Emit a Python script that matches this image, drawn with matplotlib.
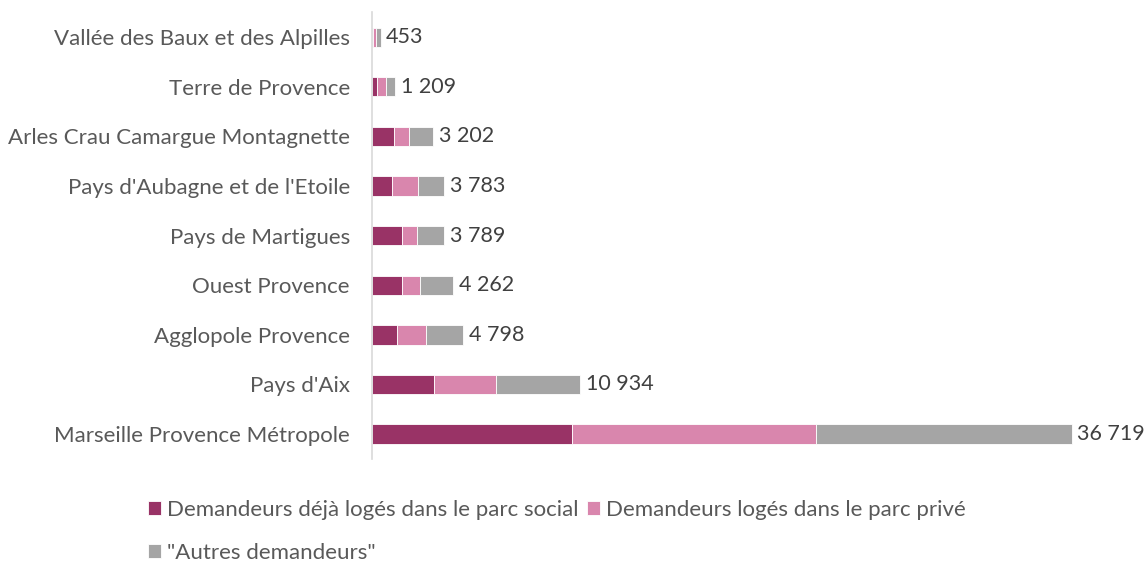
import matplotlib
matplotlib.use("Agg")
import matplotlib.pyplot as plt
import numpy as np

plt.rcParams['font.family'] = ['Lato', 'DejaVu Sans']

categories = ["Vallée des Baux et des Alpilles", "Terre de Provence",
              "Arles Crau Camargue Montagnette", "Pays d'Aubagne et de l'Etoile",
              "Pays de Martigues", "Ouest Provence", "Agglopole Provence",
              "Pays d'Aix", "Marseille Provence Métropole"]
social = [30, 280, 1155, 1033, 1575, 1575, 1313, 3255, 10500]
prive = [200, 455, 805, 1365, 770, 960, 1505, 3240, 12790]
autres = [223, 474, 1242, 1385, 1444, 1727, 1980, 4439, 13429]
totals = [453, 1209, 3202, 3783, 3789, 4262, 4798, 10934, 36719]
series_names = ["Demandeurs déjà logés dans le parc social",
                "Demandeurs logés dans le parc privé",
                "\"Autres demandeurs\""]
colors = ["#993366", "#D986AD", "#A5A5A5"]

fig = plt.figure(figsize=(11.46, 5.63), dpi=100)
ax = fig.add_axes([0.3246, 0.185, 0.665, 0.793])

y = np.arange(len(categories))
left = np.zeros(len(categories))
handles = []
for vals, name, c in zip([social, prive, autres], series_names, colors):
    h = ax.barh(y, vals, left=left, height=0.39, color=c, edgecolor='white',
                linewidth=0.6, label=name)
    handles.append(h)
    left = left + np.array(vals)

for yi, t in zip(y, totals):
    ax.annotate(f"{t:,}".replace(",", " "), xy=(t, yi), xytext=(4, 0),
                textcoords='offset points', va='center', ha='left',
                fontsize=15.5, color='#404040')

ax.set_xlim(0, 40000)
ax.set_ylim(len(categories) - 0.5, -0.5)
ax.set_yticks(y)
ax.set_yticklabels(categories, fontsize=16, color='#595959')
ax.tick_params(axis='y', length=0, pad=16)
ax.set_xticks([])
for s in ['top', 'right', 'bottom']:
    ax.spines[s].set_visible(False)
ax.spines['left'].set_color('#D9D9D9')
ax.spines['left'].set_linewidth(1.2)

leg = fig.legend([handles[0], handles[2], handles[1]],
                 [series_names[0], series_names[2], series_names[1]],
                 ncol=2, loc='center left', bbox_to_anchor=(0.129, 0.056),
                 frameon=False, fontsize=16, labelspacing=1.05,
                 handlelength=0.59, handleheight=0.59, handletextpad=0.27,
                 columnspacing=0.4, borderaxespad=0, borderpad=0)
for t in leg.get_texts():
    t.set_color('#595959')

fig.savefig("out.png", dpi=100)
